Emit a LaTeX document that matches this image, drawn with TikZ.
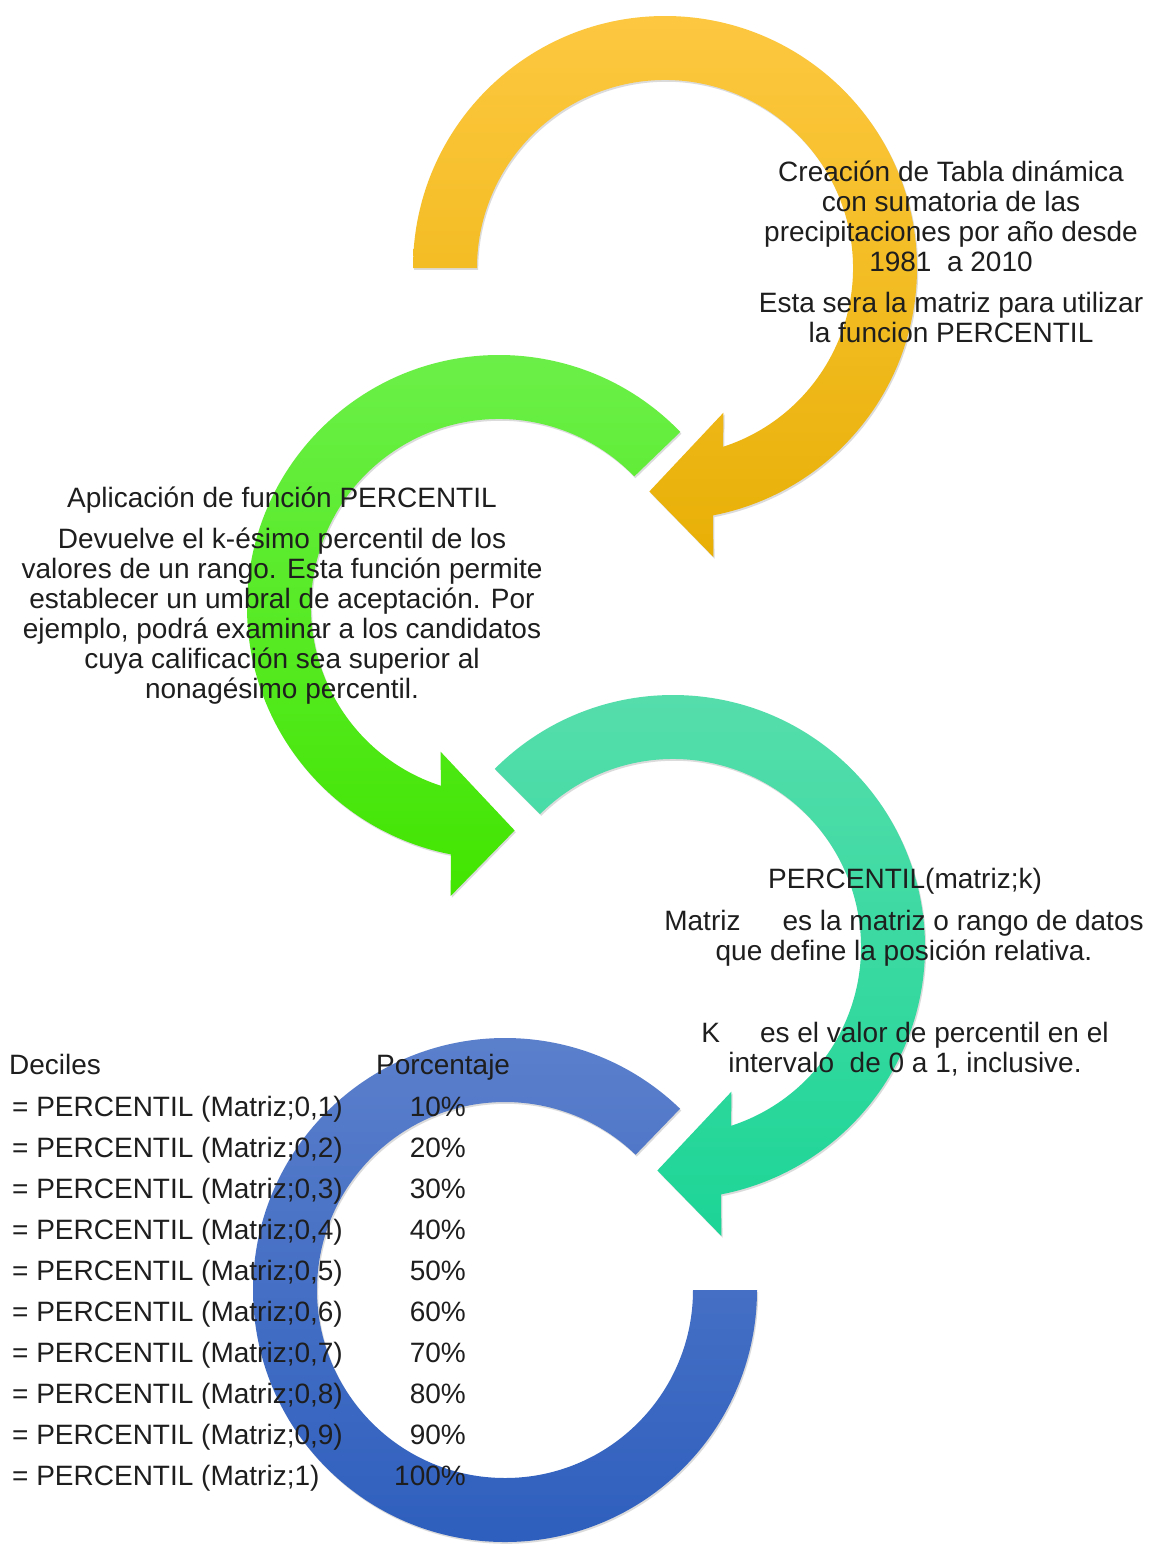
\documentclass[tikz,border=0pt]{standalone}
\usepackage{fontspec}
\setmainfont{Liberation Sans}
\usetikzlibrary{shadows}

\definecolor{orgtop}{HTML}{FDC840}
\definecolor{orgbot}{HTML}{E8B006}
\definecolor{grntop}{HTML}{6DF04C}
\definecolor{grnbot}{HTML}{42E500}
\definecolor{teltop}{HTML}{58DEAD}
\definecolor{telbot}{HTML}{1CD596}
\definecolor{blutop}{HTML}{5D81CC}
\definecolor{blubot}{HTML}{2C5DBD}
\definecolor{txtcol}{HTML}{1E1E1E}

\tikzset{
  ring/.style={draw=none,
    drop shadow={shadow xshift=1.2pt, shadow yshift=-1.8pt, opacity=0.28}},
  txt/.style={inner sep=0pt, anchor=base, text=txtcol,
    font=\fontsize{28}{30}\selectfont},
}

\begin{document}
\begin{tikzpicture}[x=1pt,y=1pt]
\useasboundingbox[fill=white] (0,0) rectangle (1151,-1545);

% step 1: clockwise arrow from the left end over the top
\begin{scope}[shift={(665,-268)}]
  \path[ring, top color=orgtop, bottom color=orgbot]
    (180:252pt) arc[start angle=180, end angle=-79, radius=252pt]
    -- (-80.5:293pt) -- (-94:224pt) -- (-68:156pt) -- (-72:188pt)
    arc[start angle=-72, end angle=180, radius=188pt] -- cycle;
\end{scope}

% step 2: counter-clockwise arrow
\begin{scope}[shift={(499,-607)}]
  \path[ring, top color=grntop, bottom color=grnbot]
    (44:252pt) arc[start angle=44, end angle=259, radius=252pt]
    -- (260.5:293pt) -- (274:224pt) -- (248:156pt) -- (252:188pt)
    arc[start angle=252, end angle=44, radius=188pt] -- cycle;
\end{scope}

% step 3: clockwise arrow
\begin{scope}[shift={(673,-947)}]
  \path[ring, top color=teltop, bottom color=telbot]
    (135:252pt) arc[start angle=135, end angle=-79, radius=252pt]
    -- (-80.5:293pt) -- (-94:224pt) -- (-68:156pt) -- (-72:188pt)
    arc[start angle=-72, end angle=135, radius=188pt] -- cycle;
\end{scope}

% step 4: open ring without head
\begin{scope}[shift={(505,-1290)}]
  \path[ring, top color=blutop, bottom color=blubot]
    (46:252pt) arc[start angle=46, end angle=360, radius=252pt]
    -- (0:188pt)
    arc[start angle=360, end angle=46, radius=188pt] -- cycle;
\end{scope}

% text of step 1
\foreach \n/\y/\t in {
  a/181/{Creación de Tabla dinámica},
  b/211/{con sumatoria de las},
  c/241/{precipitaciones por año desde},
  d/271/{1981\ \ a 2010},
  e/312/{Esta sera la matriz para utilizar},
  f/342/{la funcion PERCENTIL}}
  \node[txt] (one\n) at (951,-\y) {\t};

% text of step 2
\foreach \n/\y/\t in {
  a/507/{Aplicación de función PERCENTIL},
  b/548/{Devuelve el k-ésimo percentil de los},
  c/578/{valores de un rango. Esta función permite},
  d/608/{establecer un umbral de aceptación. Por},
  e/638/{ejemplo, podrá examinar a los candidatos},
  f/668/{cuya calificación sea superior al},
  g/698/{nonagésimo percentil.}}
  \node[txt] (two\n) at (282,-\y) {\t};

% text of step 3
\node[txt] (threea) at (905,-888) {PERCENTIL(matriz;k)};
\node[txt] (threeb) at (904,-930) {Matriz\hspace{42pt}es la matriz o rango de datos};
\node[txt] (threec) at (904,-960) {que define la posición relativa.};
\node[txt] (threed) at (905,-1042) {K\hspace{40pt}es el valor de percentil en el};
\node[txt] (threee) at (905,-1072) {intervalo\ \ de 0 a 1, inclusive.};

% decile table
\node[txt, anchor=base west] (deciles) at (9,-1074) {Deciles};
\node[txt, anchor=base west] (porc) at (376,-1074) {Porcentaje};
\foreach \i/\v in {1/{0,1},2/{0,2},3/{0,3},4/{0,4},5/{0,5},6/{0,6},7/{0,7},8/{0,8},9/{0,9},10/1}{
  \node[txt, anchor=base west] (f\i) at (12,{-1116-41*(\i-1)}) {= PERCENTIL (Matriz;\v)};
  \node[txt, anchor=base east] (p\i) at (466,{-1116-41*(\i-1)}) {\i0\%};
}
\end{tikzpicture}
\end{document}
